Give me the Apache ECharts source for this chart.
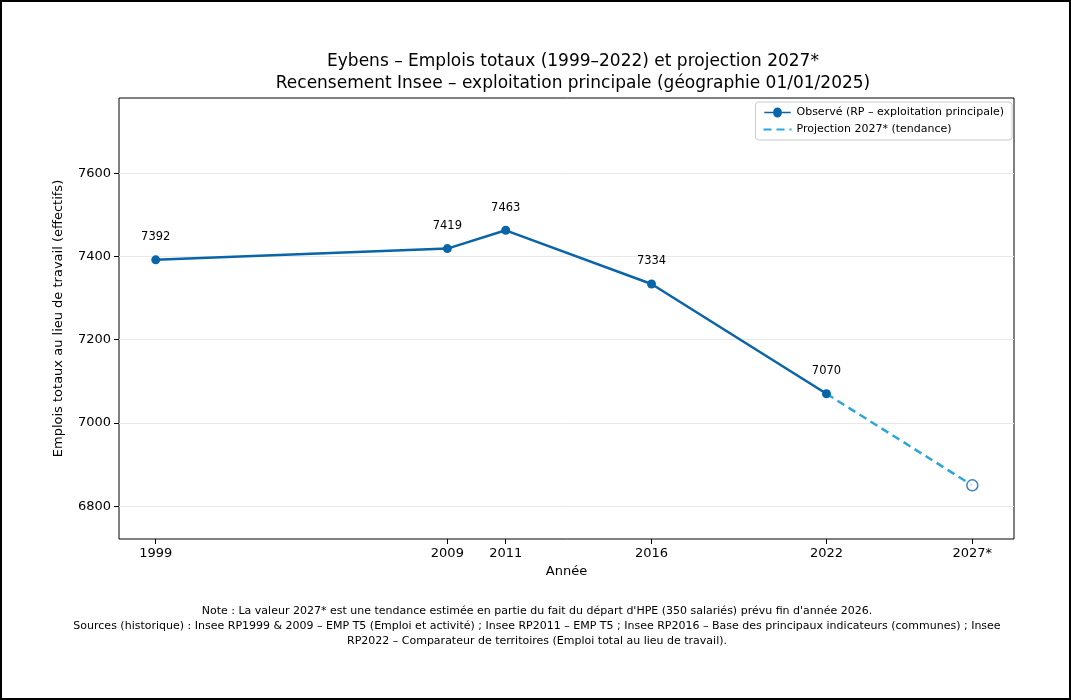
<!DOCTYPE html>
<html>
<head>
<meta charset="utf-8">
<script src="https://cdn.jsdelivr.net/npm/echarts@6/dist/echarts.min.js"></script>
<style>
html,body{margin:0;padding:0;background:#fff;}
#charts{width:1071px;height:700px;box-sizing:border-box;border:2px solid #000;}
</style>
</head>
<body>
<div id="charts"></div>
<script>
// données
var years = [1999, 2009, 2011, 2016, 2022];
var emplois = [7392, 7419, 7463, 7334, 7070];
var projYears = [2022, 2027];
var projValues = [7070, 6850];
var tickYears = [1999, 2009, 2011, 2016, 2022, 2027];
var yTicks = [6800, 7000, 7200, 7400, 7600];

var font = 'DejaVu Sans';
var myChart = echarts.init(document.getElementById('charts'));

var observed = [];
for (var i = 0; i < years.length; i++) observed.push([years[i], emplois[i]]);
var projection = [];
for (var j = 0; j < projYears.length; j++) projection.push([projYears[j], projValues[j]]);

option = {
    animation: false,
    textStyle: {fontFamily: font},
    title: {
        text: 'Eybens – Emplois totaux (1999–2022) et projection 2027*\nRecensement Insee – exploitation principale (géographie 01/01/2025)',
        left: 566, top: 44, textAlign: 'center',
        textStyle: {fontFamily: font, fontSize: 17, fontWeight: 'normal', color: '#000', lineHeight: 22}
    },
    legend: {
        right: 57, top: 100, orient: 'vertical', itemGap: 6,
        borderColor: '#ccc', borderWidth: 1, borderRadius: 3, padding: [5, 8],
        itemWidth: 28, itemHeight: 10,
        textStyle: {fontFamily: font, fontSize: 11, color: '#000'},
        data: [
            {name: 'Observé (RP – exploitation principale)',
             icon: 'path://M0,4.2L9.5,4.2A4.5,4.5,0,0,1,18.5,4.2L28,4.2L28,5.8L18.5,5.8A4.5,4.5,0,0,1,9.5,5.8L0,5.8Z'},
            {name: 'Projection 2027* (tendance)',
             icon: 'path://M0,4L8,4L8,6L0,6ZM13,4L21,4L21,6L13,6ZM26,4L28,4L28,6L26,6Z'}
        ]
    },
    grid: {left: 117, right: 55, top: 96, bottom: 159, show: true, borderColor: '#000', borderWidth: 1},
    xAxis: {
        type: 'value', min: 1997.74, max: 2028.43,
        name: 'Année', nameLocation: 'middle', nameGap: 24,
        nameTextStyle: {fontFamily: font, fontSize: 13, color: '#000'},
        axisLine: {show: false},
        axisTick: {show: true, customValues: tickYears, length: 5, lineStyle: {color: '#000'}},
        axisLabel: {customValues: tickYears, fontFamily: font, fontSize: 13, color: '#000', margin: 8,
            formatter: function (v) { return v === 2027 ? '2027*' : String(v); }},
        splitLine: {show: false}
    },
    yAxis: {
        type: 'value', min: 6721, max: 7781,
        name: 'Emplois totaux au lieu de travail (effectifs)', nameLocation: 'middle', nameGap: 54,
        nameTextStyle: {fontFamily: font, fontSize: 13, color: '#000'},
        axisLine: {show: false},
        axisTick: {show: true, customValues: yTicks, length: 5, lineStyle: {color: '#000'}},
        axisLabel: {customValues: yTicks, fontFamily: font, fontSize: 13, color: '#000', margin: 8,
            formatter: function (v) { return String(v); }},
        splitLine: {show: true, lineStyle: {color: '#e8e8e8'}}
    },
    series: [
        {
            name: 'Projection 2027* (tendance)', type: 'line', data: projection,
            showSymbol: false, symbol: 'none',
            lineStyle: {color: '#2aa6dc', width: 2.5, type: [8, 5]},
            itemStyle: {color: '#2aa6dc'},
            z: 2
        },
        {
            name: 'proj-point', type: 'scatter', data: [[2027, 6850]],
            symbol: 'circle', symbolSize: 11,
            itemStyle: {color: '#fff', borderColor: '#0a64a8', borderWidth: 1.5},
            z: 4
        },
        {
            name: 'Observé (RP – exploitation principale)', type: 'line', data: observed,
            symbol: 'circle', symbolSize: 9,
            lineStyle: {color: '#0a64a8', width: 2.5},
            itemStyle: {color: '#0a64a8'},
            label: {show: true, position: 'top', distance: 12, fontFamily: font, fontSize: 11.5, color: '#000',
                formatter: function (p) { return p.value[1]; }},
            z: 3
        }
    ],
    graphic: [{
        type: 'text', x: 535, y: 602,
        style: {
            text: "Note : La valeur 2027* est une tendance estimée en partie du fait du départ d'HPE (350 salariés) prévu fin d'année 2026.\nSources (historique) : Insee RP1999 & 2009 – EMP T5 (Emploi et activité) ; Insee RP2011 – EMP T5 ; Insee RP2016 – Base des principaux indicateurs (communes) ; Insee\nRP2022 – Comparateur de territoires (Emploi total au lieu de travail).",
            font: '11px "DejaVu Sans"', fill: '#000', align: 'center', lineHeight: 15
        }
    }]
};
myChart.setOption(option);
</script>
</body>
</html>
